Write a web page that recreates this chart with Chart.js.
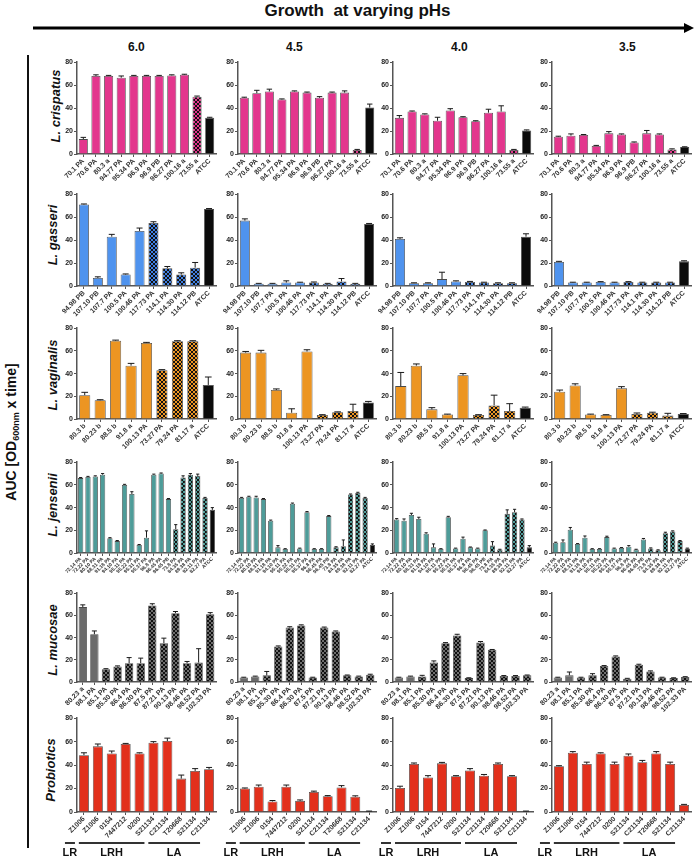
<!DOCTYPE html>
<html>
<head>
<meta charset="utf-8">
<script src="https://cdn.jsdelivr.net/npm/chart.js@4.4.0/dist/chart.umd.min.js"></script>
<style>
  body { margin: 0; width: 695px; height: 857px; overflow: hidden; background: #fff; position: relative;
         font-family: 'Liberation Sans', Arial, sans-serif; }
  canvas { position: absolute; }
  .lbl { position: absolute; font-weight: bold; color: #111; white-space: nowrap; }
  .sp { position: absolute; font-style: italic; font-weight: bold; font-size: 13px; color: #111; white-space: nowrap;
        transform: translate(-50%, -50%) rotate(-90deg); }
</style>
</head>
<body>
<div class="lbl" style="left:250px;top:1px;width:215px;text-align:center;font-size:17px">Growth&nbsp; at varying pHs</div>
<svg style="position:absolute;left:0;top:0" width="695" height="857">
  <line x1="33" y1="28" x2="684" y2="28" stroke="#000" stroke-width="3"/>
  <polygon points="684,23 694,28 684,33" fill="#000"/>
  <line x1="28" y1="55" x2="28" y2="848" stroke="#111" stroke-width="2"/>
</svg>
<div class="lbl" style="left:128px;top:40px;font-size:12px">6.0</div>
<div class="lbl" style="left:286px;top:40px;font-size:12px">4.5</div>
<div class="lbl" style="left:451px;top:40px;font-size:12px">4.0</div>
<div class="lbl" style="left:619px;top:40px;font-size:12px">3.5</div>
<div class="sp" style="left:12px;top:432px;font-style:normal;font-size:14px">AUC [OD<sub style="font-size:9px">600nm</sub> x time]</div>
<div class="sp" style="left:55px;top:106px">L. crispatus</div>
<div class="sp" style="left:52px;top:235px">L. gasseri</div>
<div class="sp" style="left:52px;top:375px">L. vaginalis</div>
<div class="sp" style="left:52px;top:505px">L. jensenii</div>
<div class="sp" style="left:52px;top:640px">L. mucosae</div>
<div class="sp" style="left:50px;top:770px">Probiotics</div>

<script>
// pH conditions (columns)
const phs = ['6.0', '4.5', '4.0', '3.5'];

// L. crispatus
const crispatusLabels = ['70.1 PA', '70.6 PA', '80.3 a', '94.77 PA', '95.34 PA', '96.9 PA', '96.9 PB', '96.27 PA', '100.16 a', '73.55 a', 'ATCC'];
const crispatusMeans = [
  [13, 68, 68, 66.5, 68, 68, 68, 68.5, 69, 50, 31.5],
  [49, 53, 54.5, 47.5, 54.5, 53.5, 49, 53.5, 53.5, 3.5, 40.5],
  [31.5, 37, 34.5, 29, 38, 32, 28.5, 36, 37, 3.5, 20.5],
  [15, 16, 16.5, 7, 18, 17, 10, 18, 17, 4, 6]
];
const crispatusErr = [
  [1.5, 1, 0.5, 1.5, 0.5, 0.5, 0.5, 0.5, 0.5, 0.5, 0.5],
  [0.5, 2.5, 2, 0.5, 0.5, 0.5, 1, 0.5, 1.5, 0.5, 3],
  [2, 0.5, 0.5, 3, 1.5, 0.5, 0.5, 3, 5, 0.5, 0.5],
  [0.5, 1.5, 0.5, 0.5, 1.5, 0.5, 0.5, 2.5, 0.5, 0.5, 0.3]
];

// L. gasseri
const gasseriLabels = ['94.98 PB', '107.10 PB', '107.7 PA', '100.5 PA', '100.46 PA', '117.73 PA', '114.1 PA', '114.30 PA', '114.12 PB', 'ATCC'];
const gasseriMeans = [
  [71, 7, 43, 10, 48, 55, 15.5, 10, 16, 67],
  [57, 2, 2, 3, 3, 3, 2, 4, 2, 54],
  [41, 2.5, 2.5, 6, 4, 3.5, 3, 2.5, 2.5, 43],
  [21, 3, 3, 3.5, 3, 3.5, 3, 3, 3, 21.5]
];
const gasseriErr = [
  [0.5, 1, 2, 0.5, 2.5, 1, 1.5, 1.5, 4.5, 0.5],
  [1.5, 0.3, 0.3, 1.5, 0.3, 0.5, 0.3, 2.5, 0.3, 0.5],
  [1, 0.3, 0.3, 6, 0.5, 0.5, 0.3, 0.3, 0.3, 2.5],
  [0.5, 0.3, 0.3, 0.3, 0.3, 0.3, 0.3, 0.3, 0.3, 0.5]
];

// L. vaginalis
const vaginalisLabels = ['80.3 b', '80.23 b', '88.5 b', '91.8 a', '100.13 PA', '73.27 PA', '79.24 PA', '81.17 a', 'ATCC'];
const vaginalisMeans = [
  [21, 16.5, 69, 47, 67, 43, 68.5, 68.5, 30],
  [58.5, 58.5, 25.5, 5.5, 59.5, 3.5, 6, 7, 14.5],
  [29, 47, 8.5, 4, 38.5, 3.5, 12, 7, 10],
  [24, 29.5, 4, 3.5, 27, 4.5, 5.5, 3, 4.5]
];
const vaginalisErr = [
  [2.5, 0.5, 0.5, 2, 0.5, 0.5, 0.5, 0.5, 7],
  [1, 2, 1, 3.5, 1.5, 0.3, 0.3, 6, 1],
  [12, 1.5, 1.5, 0.3, 1.5, 0.3, 9, 6.5, 0.5],
  [1.5, 1.5, 0.3, 0.3, 1.5, 0.8, 0.5, 2, 0.3]
];

// L. jensenii
const jenseniiLabels = ['72.14 PA', '72.22 PA', '80.10 PA', '88.31 PA', '91.18 PA', '94.10 PA', '95.11 PA', '95.22 PA', '95.31 PA', '95.37 PA',
  '96.8 PA', '96.45 PA', '96.45 PB', '73.8 PA', '84.35 PA', '89.38 PA', '92.11 PA', '82.27 PA', 'ATCC'];
const jenseniiMeans = [
  [66, 67, 67.5, 69, 13, 10.5, 60, 52, 7, 13.5, 69, 70, 47.5, 21, 66.5, 69, 68, 48.5, 38],
  [48.5, 49.5, 49, 47.5, 28.5, 5, 3.5, 43.5, 4, 36, 3.5, 3.5, 32.5, 5, 6, 51.5, 53, 48.5, 7],
  [29.5, 28.5, 33.5, 30, 17, 5, 3.5, 31.5, 4, 12.5, 5, 4, 20, 6.5, 3, 34.5, 36, 29.5, 5],
  [9, 9.5, 20.5, 8, 13.5, 3.5, 3.5, 14, 4, 4.5, 5.5, 3, 12, 4, 2.5, 17.5, 19, 10.5, 4]
];
const jenseniiErr = [
  [0.5, 0.5, 0.5, 1, 0.5, 0.5, 0.5, 2, 0.5, 6, 0.5, 0.5, 0.5, 4, 1.5, 1, 1.5, 0.5, 2],
  [0.5, 0.5, 1, 0.5, 0.5, 1.5, 0.3, 0.5, 0.3, 0.5, 0.3, 0.3, 0.5, 0.5, 5.5, 0.5, 0.5, 0.5, 1],
  [0.8, 1.5, 1.5, 1.5, 0.8, 3, 0.3, 0.8, 0.3, 1.5, 0.3, 0.3, 0.3, 3.5, 0.3, 3.5, 2.5, 0.5, 1.5],
  [0.5, 2, 2, 0.3, 1.5, 0.3, 0.3, 0.8, 0.3, 0.3, 1, 0.3, 0.8, 0.5, 0.3, 0.8, 0.5, 0.5, 0.3]
];

// L. mucosae
const mucosaeLabels = ['80.23 a', '98.1 PA', '85.1 PA', '85.30 PA', '86.4 PA', '86.30 PA', '87.5 PA', '87.21 PA', '90.13 PA', '98.46 PA', '98.52 PA', '102.33 PA'];
const mucosaeMeans = [
  [67.5, 43, 11.5, 14, 17, 17, 69, 35, 62, 17, 17.5, 61],
  [4, 5, 6, 32, 49, 51, 4, 49, 45.5, 6, 5, 6.5],
  [4, 5, 5, 17.5, 35, 42, 3.5, 35.5, 29, 5.5, 5.5, 6],
  [4, 6, 4, 6, 14.5, 23, 3, 15.5, 9.5, 4, 3.5, 4.5]
];
const mucosaeErr = [
  [2, 3, 0.5, 0.5, 5, 4.5, 1.5, 4.5, 1.5, 1.5, 12.5, 1.5],
  [0.3, 0.3, 3.5, 0.5, 0.8, 0.5, 0.3, 0.5, 0.5, 0.3, 0.3, 0.5],
  [0.3, 0.3, 1, 1.5, 0.5, 1, 0.3, 1, 0.3, 0.3, 0.3, 0.3],
  [0.3, 3, 0.3, 1.5, 0.3, 0.5, 0.3, 0.5, 0.5, 0.3, 0.3, 0.3]
];

// Probiotics
const probioticsLabels = ['Z1006', 'Z1006', '0154', '7447212', '0200', 'S21134', 'C21134', 'T20668', 'S21134', 'C21134'];
const probioticsMeans = [
  [48.5, 56, 50, 58, 50, 59, 60.5, 28.5, 35, 36.5],
  [20, 21.5, 9, 21.5, 9.5, 17, 13.5, 21, 13, 0.5],
  [20.5, 41, 29.5, 41.5, 30.5, 35.5, 31, 41, 30.5, 0.5],
  [39, 50.5, 41, 50, 41, 48, 42.5, 50, 41, 6]
];
const probioticsErr = [
  [2, 2, 2, 0.5, 0.5, 1, 2.5, 3, 2, 1.5],
  [0.5, 1.5, 0.8, 1.5, 0.8, 0.8, 0.5, 1.5, 0.8, 0.3],
  [1.5, 0.8, 1.5, 0.8, 0.5, 1.5, 1, 0.8, 0.5, 0.3],
  [0.5, 1, 1.5, 0.5, 1.5, 1.5, 1.5, 1.5, 1.5, 0.5]
];
const probioticGroups = [['LR', 0, 0], ['LRH', 1, 5], ['LA', 6, 9]];

const yTicks = [0, 20, 40, 60, 80];

// layout of the grid (pixels on the page)
const colAxisX = [77, 238, 393, 552];
const colRight = [216, 376, 533, 691];
const rowTop = [62, 194, 328, 462, 593, 718];
const rowZero = [154, 286, 419, 553, 682, 812];

function checker(c1, c2) {
  const p = document.createElement('canvas');
  p.width = p.height = 4;
  const g = p.getContext('2d');
  g.fillStyle = c2; g.fillRect(0, 0, 4, 4);
  g.fillStyle = c1; g.fillRect(0, 0, 2, 2); g.fillRect(2, 2, 2, 2);
  return g.createPattern(p, 'repeat');
}

const species = [
  { labels: crispatusLabels, means: crispatusMeans, errs: crispatusErr, color: '#E3368D', pat: checker('#E3368D', '#111'), patIdx: [9], atcc: true, font: 7 },
  { labels: gasseriLabels, means: gasseriMeans, errs: gasseriErr, color: '#4F93EE', pat: checker('#3F7FE0', '#111'), patIdx: [5, 6, 7, 8], atcc: true, font: 7 },
  { labels: vaginalisLabels, means: vaginalisMeans, errs: vaginalisErr, color: '#EC9522', pat: checker('#EC9522', '#111'), patIdx: [5, 6, 7], atcc: true, font: 7 },
  { labels: jenseniiLabels, means: jenseniiMeans, errs: jenseniiErr, color: '#4E9C99', pat: checker('#4E9C99', '#111'), patIdx: [13, 14, 15, 16, 17], atcc: true, font: 5 },
  { labels: mucosaeLabels, means: mucosaeMeans, errs: mucosaeErr, color: '#6B6B6B', pat: checker('#6E6E6E', '#111'), patIdx: [2, 3, 4, 5, 6, 7, 8, 9, 10, 11], atcc: false, font: 7 },
  { labels: probioticsLabels, means: probioticsMeans, errs: probioticsErr, color: '#E2301C', pat: null, patIdx: [], atcc: false, font: 7 }
];

const errorBars = {
  id: 'errorBars',
  afterDatasetsDraw(chart) {
    const ds = chart.data.datasets[0];
    const y = chart.scales.y;
    const ctx = chart.ctx;
    ctx.save();
    ctx.strokeStyle = '#1a1a1a';
    ctx.lineWidth = 1;
    chart.getDatasetMeta(0).data.forEach((bar, i) => {
      const top = y.getPixelForValue(ds.data[i] + ds.errors[i]);
      const half = Math.max(bar.width * 0.3, 1.5);
      ctx.beginPath();
      ctx.moveTo(bar.x, bar.y);
      ctx.lineTo(bar.x, top);
      ctx.moveTo(bar.x - half, top);
      ctx.lineTo(bar.x + half, top);
      ctx.stroke();
    });
    ctx.restore();
  }
};

const groupLines = {
  id: 'groupLines',
  afterDraw(chart) {
    if (!chart.options.plugins.groupLines.show) return;
    const x = chart.scales.x, ctx = chart.ctx;
    const yLine = chart.scales.y.bottom + 31;
    ctx.save();
    ctx.strokeStyle = '#333';
    ctx.lineWidth = 2;
    ctx.fillStyle = '#111';
    ctx.font = 'bold 11px "Liberation Sans", Arial, sans-serif';
    ctx.textAlign = 'center';
    ctx.textBaseline = 'middle';
    probioticGroups.forEach(([name, a, b]) => {
      const x1 = x.getPixelForValue(a) - 19;
      const x2 = x.getPixelForValue(b) - 9;
      ctx.beginPath();
      ctx.moveTo(x1, yLine);
      ctx.lineTo(x2, yLine);
      ctx.stroke();
      ctx.fillText(name, (x1 + x2) / 2, yLine + 10);
    });
    ctx.restore();
  }
};

function barColors(sp) {
  return sp.labels.map((l, i) => {
    if (sp.atcc && i === sp.labels.length - 1) return '#0b0b0b';
    if (sp.patIdx.includes(i)) return sp.pat;
    return sp.color;
  });
}

species.forEach((sp, r) => {
  phs.forEach((ph, c) => {
    const padTop = 5;
    const yW = 24;
    const xH = r === 5 ? 45 : 42;
    const cv = document.createElement('canvas');
    const w = colRight[c] - colAxisX[c] + yW + 2;
    const h = rowZero[r] - rowTop[r] + padTop + xH;
    cv.width = w; cv.height = h;
    cv.style.left = (colAxisX[c] - yW) + 'px';
    cv.style.top = (rowTop[r] - padTop) + 'px';
    document.body.appendChild(cv);
    new Chart(cv.getContext('2d'), {
      type: 'bar',
      data: {
        labels: sp.labels,
        datasets: [{
          data: sp.means[c],
          errors: sp.errs[c],
          backgroundColor: barColors(sp),
          borderColor: '#4a4a4a',
          borderWidth: 0.8,
          barPercentage: 0.72,
          categoryPercentage: 1
        }]
      },
      options: {
        responsive: false,
        animation: false,
        layout: { padding: { top: padTop, right: 2, left: 0, bottom: 0 } },
        plugins: { legend: { display: false }, tooltip: { enabled: false }, groupLines: { show: r === 5 } },
        scales: {
          x: {
            afterFit(s) { s.height = xH; },
            grid: { display: true, drawOnChartArea: false, drawTicks: true, tickLength: 3, offset: false, color: '#555' },
            border: { display: true, color: '#555', width: 1.5 },
            ticks: { autoSkip: false, minRotation: 45, maxRotation: 45, padding: 0, color: '#333',
                     font: { size: sp.font, weight: 'bold', family: '"Liberation Sans", Arial, sans-serif' } }
          },
          y: {
            min: 0, max: 80,
            afterFit(s) { s.width = yW; },
            afterBuildTicks(s) { s.ticks = yTicks.map(v => ({ value: v })); },
            grid: { display: true, drawOnChartArea: false, drawTicks: true, tickLength: 3, color: '#555' },
            border: { display: true, color: '#555', width: 1.5 },
            ticks: { padding: 1, color: '#222', font: { size: 7, weight: 'bold', family: '"Liberation Sans", Arial, sans-serif' } }
          }
        }
      },
      plugins: [errorBars, groupLines]
    });
  });
});
</script>
</body>
</html>
